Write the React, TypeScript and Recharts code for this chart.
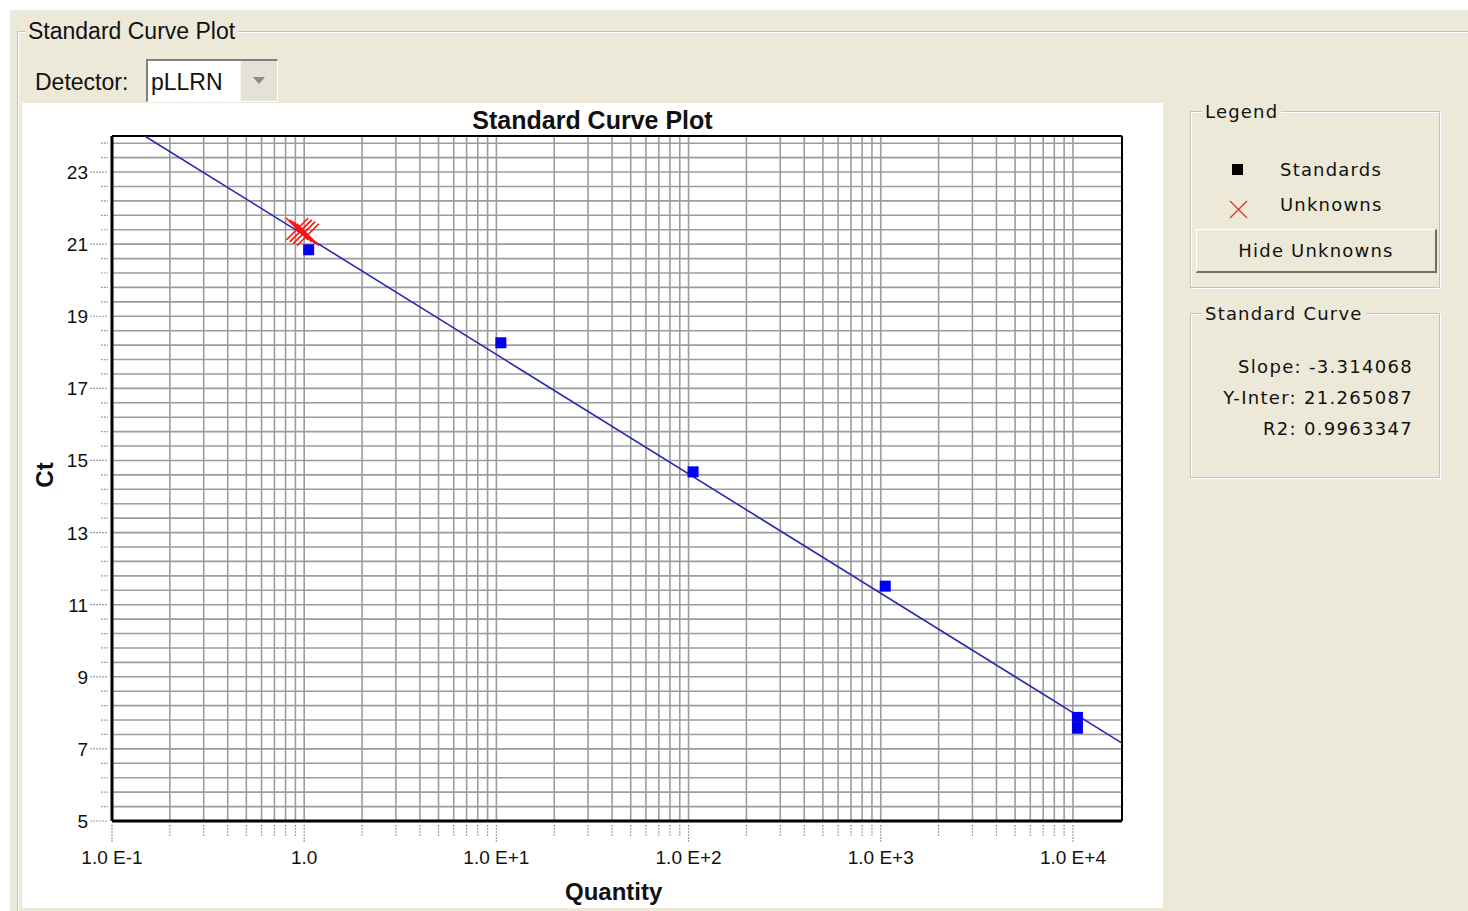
import React from 'react'
import { CartesianGrid, ComposedChart, Line, ReferenceLine, Scatter, XAxis, YAxis } from 'recharts'

// decade ticks on the quantity axis and their printed labels
const decades = [0.1, 1, 10, 100, 1000, 10000]
const xLabels = ['1.0 E-1', '1.0', '1.0 E+1', '1.0 E+2', '1.0 E+3', '1.0 E+4']
const yLabels = [5, 7, 9, 11, 13, 15, 17, 19, 21, 23]

const standards = [
  { q: 1, ct: 20.83 },
  { q: 10, ct: 18.25 },
  { q: 100, ct: 14.67 },
  { q: 1000, ct: 11.5 },
  { q: 10000, ct: 7.86 },
  { q: 10000, ct: 7.56 },
]

const unknowns = [
  { q: 0.92, ct: 21.42 },
  { q: 0.96, ct: 21.37 },
  { q: 1.0, ct: 21.32 },
  { q: 1.045, ct: 21.26 },
]

// fitted line, read at the edges of the plot
const fitLine = [
  { q: 0.148, ct: 24.0 },
  { q: 18000, ct: 7.16 },
]

const curveStats = ['Slope: -3.314068', 'Y-Inter: 21.265087', 'R2: 0.9963347']

const xGrid = decades
  .slice(0, 5)
  .flatMap((d) => [1, 2, 3, 4, 5, 6, 7, 8, 9].map((m) => +(d * m).toPrecision(3)))
  .concat([10000])
const yGrid = Array.from({ length: 48 }, (_, i) => +(5 + 0.4 * i).toFixed(1))

const BG = '#ece9d8'
const uiFont = '"DejaVu Sans", sans-serif'
const plotFont = '"Liberation Sans", Arial, sans-serif'

function XTick({ x, y, payload }: any) {
  const i = decades.indexOf(payload.value)
  const major = i >= 0
  return (
    <g>
      <line x1={x} x2={x} y1={y + 2} y2={y + (major ? 19 : 13)} stroke="#a0a0a0" strokeWidth={1.2} strokeDasharray="2 1" />
      {major && (
        <text x={x} y={y + 41} textAnchor="middle" fontFamily={plotFont} fontSize={19} fill="#111">
          {xLabels[i]}
        </text>
      )}
    </g>
  )
}

function YTick({ x, y, payload }: any) {
  const v = payload.value
  const major = Math.abs(v - Math.round(v)) < 0.01 && yLabels.includes(Math.round(v))
  return (
    <g>
      <line x1={x - (major ? 20 : 9)} x2={x - 2} y1={y} y2={y} stroke="#a0a0a0" strokeWidth={1.2} strokeDasharray="2 1" />
      {major && (
        <text x={x - 22} y={y + 7} textAnchor="end" fontFamily={plotFont} fontSize={19} fill="#111">
          {Math.round(v)}
        </text>
      )}
    </g>
  )
}

const square = (p: any) => <rect x={p.cx - 1} y={p.cy - 6} width={11} height={11} fill="#0000ee" />

const cross = (p: any) => (
  <g stroke="#ff1010" strokeWidth={1.6}>
    <line x1={p.cx - 11} y1={p.cy - 11} x2={p.cx + 11} y2={p.cy + 11} />
    <line x1={p.cx - 11} y1={p.cy + 11} x2={p.cx + 11} y2={p.cy - 11} />
  </g>
)

function GroupBox({ left, top, width, height, title }: any) {
  return (
    <div style={{ position: 'absolute', left, top, width, height }}>
      <div
        style={{
          position: 'absolute',
          inset: 0,
          border: '1px solid #c5c2b2',
          boxShadow: '1px 1px 0 #fff, inset 1px 1px 0 #fff',
        }}
      />
      <div
        style={{
          position: 'absolute',
          left: 12,
          top: -10,
          padding: '0 3px',
          background: BG,
          fontFamily: uiFont,
          fontSize: 18,
          letterSpacing: 1.2,
          color: '#111',
        }}
      >
        {title}
      </div>
    </div>
  )
}

export default function App() {
  return (
    <div style={{ position: 'absolute', left: 0, top: 0, width: 1468, height: 911, background: '#fff', overflow: 'hidden' }}>
      <div style={{ position: 'absolute', left: 10, top: 10, width: 1458, height: 901, background: BG }} />

      {/* outer group box */}
      <div style={{ position: 'absolute', left: 17, top: 31, width: 1460, height: 900, borderLeft: '1px solid #c5c2b2', borderTop: '1px solid #c5c2b2', boxShadow: 'inset 1px 1px 0 #fff' }} />
      <div style={{ position: 'absolute', left: 25, top: 18, padding: '0 3px', background: BG, fontFamily: plotFont, fontSize: 23, color: '#111' }}>
        Standard Curve Plot
      </div>

      {/* detector selector */}
      <div style={{ position: 'absolute', left: 35, top: 69, fontFamily: plotFont, fontSize: 23, color: '#111' }}>Detector:</div>
      <div
        style={{
          position: 'absolute',
          left: 146,
          top: 59,
          width: 129,
          height: 40,
          background: '#fff',
          borderTop: '2px solid #808080',
          borderLeft: '2px solid #808080',
          borderBottom: '1px solid #fff',
          borderRight: '1px solid #fff',
        }}
      >
        <div style={{ position: 'absolute', left: 3, top: 8, fontFamily: plotFont, fontSize: 23, color: '#111' }}>pLLRN</div>
        <div style={{ position: 'absolute', right: 0, top: 0, width: 36, height: 40, background: '#e4e2d6', borderLeft: '1px solid #f4f4f4' }}>
          <svg width={36} height={40}>
            <path d="M12 16 L24 16 L18 23 Z" fill="#8a8a8a" />
          </svg>
        </div>
      </div>

      {/* chart panel */}
      <div style={{ position: 'absolute', left: 22, top: 103, width: 1141, height: 805, background: '#fff' }}>
        <ComposedChart width={1141} height={805} margin={{ top: 33, right: 41, bottom: 0, left: 0 }}>
          <CartesianGrid stroke="#9c9c9c" strokeWidth={1.6} />
          <XAxis
            dataKey="q"
            type="number"
            scale="log"
            domain={[0.1, 18000]}
            allowDataOverflow
            ticks={xGrid}
            interval={0}
            height={87}
            tickSize={0}
            tickLine={false}
            tick={<XTick />}
            axisLine={{ stroke: '#000', strokeWidth: 3 }}
          />
          <YAxis
            dataKey="ct"
            type="number"
            domain={[5, 24]}
            allowDataOverflow
            ticks={yGrid}
            interval={0}
            width={90}
            tickSize={0}
            tickLine={false}
            tick={<YTick />}
            axisLine={{ stroke: '#000', strokeWidth: 3 }}
          />
          <ReferenceLine y={24} stroke="#000" strokeWidth={2} />
          <ReferenceLine x={18000} stroke="#000" strokeWidth={2} />
          <Scatter data={standards} shape={square} isAnimationActive={false} />
          <Line data={fitLine} dataKey="ct" stroke="#2a2ab0" strokeWidth={1.6} dot={false} isAnimationActive={false} />
          <Scatter data={unknowns} shape={cross} isAnimationActive={false} />
        </ComposedChart>
        <div style={{ position: 'absolute', left: 0, width: 1141, top: 3, textAlign: 'center', fontFamily: plotFont, fontWeight: 700, fontSize: 25, color: '#111' }}>
          Standard Curve Plot
        </div>
        <div style={{ position: 'absolute', left: 543, top: 775, fontFamily: plotFont, fontWeight: 700, fontSize: 24, color: '#111' }}>
          Quantity
        </div>
        <div
          style={{
            position: 'absolute',
            left: 10,
            top: 358,
            transform: 'rotate(-90deg)',
            fontFamily: plotFont,
            fontWeight: 700,
            fontSize: 24,
            color: '#111',
          }}
        >
          Ct
        </div>
      </div>

      {/* legend */}
      <GroupBox left={1190} top={111} width={250} height={177} title="Legend" />
      <svg style={{ position: 'absolute', left: 1226, top: 158 }} width={26} height={62}>
        <rect x={6} y={6} width={11} height={11} fill="#000" />
        <g stroke="#e83030" strokeWidth={1.3}>
          <line x1={4} y1={43} x2={21} y2={60} />
          <line x1={4} y1={60} x2={21} y2={43} />
        </g>
      </svg>
      <div style={{ position: 'absolute', left: 1280, top: 159, fontFamily: uiFont, fontSize: 18, letterSpacing: 1.2, color: '#111' }}>Standards</div>
      <div style={{ position: 'absolute', left: 1280, top: 194, fontFamily: uiFont, fontSize: 18, letterSpacing: 1.2, color: '#111' }}>Unknowns</div>
      <div
        style={{
          position: 'absolute',
          left: 1196,
          top: 229,
          width: 238,
          height: 41,
          background: BG,
          borderTop: '1px solid #fff',
          borderLeft: '1px solid #fff',
          borderRight: '2px solid #716f64',
          borderBottom: '2px solid #716f64',
          textAlign: 'center',
          lineHeight: '41px',
          fontFamily: uiFont,
          fontSize: 18,
          letterSpacing: 1.2,
          color: '#111',
        }}
      >
        Hide Unknowns
      </div>

      {/* fit statistics */}
      <GroupBox left={1190} top={313} width={250} height={165} title="Standard Curve" />
      {curveStats.map((s, i) => (
        <div
          key={s}
          style={{
            position: 'absolute',
            right: 1468 - 1413,
            top: 356 + i * 31,
            fontFamily: uiFont,
            fontSize: 18,
            letterSpacing: 1.3,
            color: '#111',
            whiteSpace: 'nowrap',
          }}
        >
          {s}
        </div>
      ))}
    </div>
  )
}
